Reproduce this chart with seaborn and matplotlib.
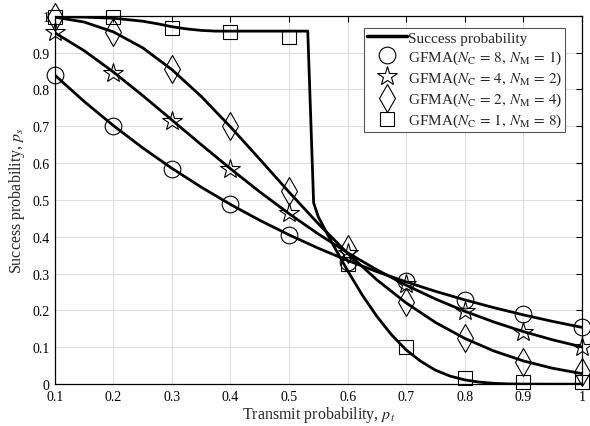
import numpy as np
import pandas as pd
import matplotlib
matplotlib.use("Agg")
import matplotlib.pyplot as plt
from matplotlib.lines import Line2D
import seaborn as sns

# ---------------- data ----------------
pt_curve = [0.10, 0.15, 0.20, 0.25, 0.30, 0.35, 0.40, 0.45, 0.50, 0.55,
            0.60, 0.65, 0.70, 0.75, 0.80, 0.85, 0.90, 0.95, 1.00]
ps_c8 = [0.8385, 0.7672, 0.7016, 0.6412, 0.5856, 0.5346, 0.4877, 0.4446, 0.4051, 0.3689,
         0.3357, 0.3053, 0.2775, 0.2520, 0.2288, 0.2075, 0.1881, 0.1704, 0.1542]
ps_c4 = [0.9535, 0.9050, 0.8470, 0.7832, 0.7167, 0.6500, 0.5846, 0.5218, 0.4626, 0.4075,
         0.3567, 0.3104, 0.2686, 0.2312, 0.1979, 0.1686, 0.1428, 0.1204, 0.1010]
ps_c2 = [0.9958, 0.9827, 0.9559, 0.9128, 0.8535, 0.7808, 0.6982, 0.6103, 0.5213, 0.4353,
         0.3552, 0.2832, 0.2205, 0.1676, 0.1243, 0.0899, 0.0632, 0.0432, 0.0287]
pt_c1 = [0.10, 0.15, 0.20, 0.25, 0.275, 0.30, 0.325, 0.35, 0.375, 0.40,
         0.45, 0.50, 0.532, 0.542, 0.55, 0.575, 0.60, 0.625, 0.65, 0.675,
         0.70, 0.725, 0.75, 0.775, 0.80, 0.825, 0.85, 0.875, 0.90, 0.95, 1.00]
ps_c1 = [0.997, 0.996, 0.993, 0.985, 0.978, 0.970, 0.964, 0.960, 0.958, 0.958,
         0.958, 0.958, 0.958, 0.492, 0.454, 0.379, 0.308, 0.242, 0.184, 0.134,
         0.093, 0.062, 0.038, 0.022, 0.0116, 0.0055, 0.0022, 0.0007, 0.0002, 0.0, 0.0]

pt_sim = [0.1, 0.2, 0.3, 0.4, 0.5, 0.6, 0.7, 0.8, 0.9, 1.0]
sim_c8 = [0.840, 0.700, 0.585, 0.490, 0.405, 0.332, 0.281, 0.228, 0.190, 0.155]
sim_c4 = [0.955, 0.845, 0.715, 0.585, 0.465, 0.357, 0.271, 0.199, 0.142, 0.100]
sim_c2 = [0.997, 0.955, 0.855, 0.700, 0.525, 0.366, 0.222, 0.125, 0.060, 0.032]
sim_c1 = [0.997, 0.997, 0.967, 0.956, 0.941, 0.327, 0.100, 0.016, 0.005, 0.005]

legend_labels = [
    "Success probability",
    r"GFMA($N_{\mathrm{C}}\,=\,8,\,N_{\mathrm{M}}\,=\,1$)",
    r"GFMA($N_{\mathrm{C}}\,=\,4,\,N_{\mathrm{M}}\,=\,2$)",
    r"GFMA($N_{\mathrm{C}}\,=\,2,\,N_{\mathrm{M}}\,=\,4$)",
    r"GFMA($N_{\mathrm{C}}\,=\,1,\,N_{\mathrm{M}}\,=\,8$)",
]
xticks = [0.1, 0.2, 0.3, 0.4, 0.5, 0.6, 0.7, 0.8, 0.9, 1.0]
xtick_labels = ["0.1", "0.2", "0.3", "0.4", "0.5", "0.6", "0.7", "0.8", "0.9", "1"]
yticks = [0.0, 0.1, 0.2, 0.3, 0.4, 0.5, 0.6, 0.7, 0.8, 0.9, 1.0]
ytick_labels = ["0", "0.1", "0.2", "0.3", "0.4", "0.5", "0.6", "0.7", "0.8", "0.9", "1"]

# ---------------- style ----------------
sns.set_theme(style="white")
plt.rcParams["font.family"] = ["Liberation Serif", "DejaVu Serif"]
plt.rcParams["mathtext.fontset"] = "stix"
plt.rcParams["axes.unicode_minus"] = False

fig = plt.figure(figsize=(5.9, 4.27), dpi=100)
ax = fig.add_axes([0.093, 0.098, 0.893, 0.863])

curves = [(pt_curve, ps_c8), (pt_curve, ps_c4), (pt_curve, ps_c2), (pt_c1, ps_c1)]
for xs, ys in curves:
    df = pd.DataFrame({"pt": xs, "ps": ys})
    sns.lineplot(data=df, x="pt", y="ps", ax=ax, color="black", linewidth=2.0,
                 sort=False, estimator=None, zorder=3)

sims = [(sim_c8, "o", 12), (sim_c4, "*", 15), (sim_c2, "d", 14), (sim_c1, "s", 10)]
for ys, mk, ms in sims:
    df = pd.DataFrame({"pt": pt_sim, "ps": ys})
    ax.plot(df["pt"], df["ps"], linestyle="none", marker=mk, markersize=ms,
            markerfacecolor="none", markeredgecolor="black", markeredgewidth=0.8,
            zorder=4, clip_on=False)

ax.set_xlim(0.1, 1.0)
ax.set_ylim(0.0, 1.0)
ax.set_xticks(xticks)
ax.set_xticklabels(xtick_labels)
ax.set_yticks(yticks)
ax.set_yticklabels(ytick_labels)
ax.grid(True, color="#dedede", linewidth=0.8)
ax.set_axisbelow(True)
for s in ax.spines.values():
    s.set_color("black")
    s.set_linewidth(0.9)
ax.tick_params(direction="in", length=4, width=0.8, top=True, right=True,
               labelsize=10, colors="black", pad=4)
ax.set_xlabel(r"Transmit probability, $p_t$", fontsize=11.5, labelpad=1)
ax.set_ylabel(r"Success probability, $p_s$", fontsize=11.5, labelpad=4)

handles = [Line2D([], [], color="black", linewidth=2.5)]
for ys, mk, ms in sims:
    handles.append(Line2D([], [], linestyle="none", marker=mk, markersize=ms,
                          markerfacecolor="none", markeredgecolor="black",
                          markeredgewidth=0.8))
leg = ax.legend(handles, legend_labels, loc="upper right",
                bbox_to_anchor=(0.969, 0.967), fontsize=11, frameon=True,
                fancybox=False, edgecolor="#555555", framealpha=1,
                handlelength=2.6, handletextpad=0.1, borderpad=0.2,
                labelspacing=0.25, borderaxespad=0)
leg.get_frame().set_linewidth(0.8)

fig.savefig("out.png", dpi=100)
